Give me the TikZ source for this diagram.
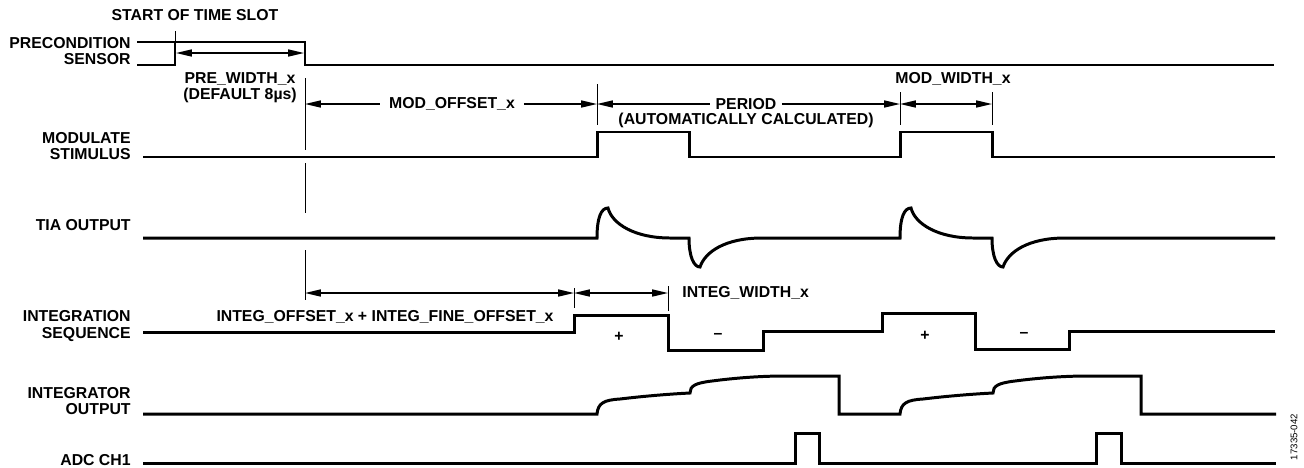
\documentclass[tikz,border=0pt]{standalone}
\usepackage{fontspec}
\setmainfont{Liberation Sans}
\usetikzlibrary{arrows.meta,positioning,calc}

\tikzset{
  sig/.style={line width=1.7pt},
  dimline/.style={line width=0.8pt},
  vtick/.style={line width=0.5pt},
  signame/.style={anchor=east,align=right,inner sep=0pt,font=\fontsize{9}{9.2}\selectfont\bfseries},
  txt/.style={align=center,inner sep=0pt,font=\fontsize{9}{9.2}\selectfont\bfseries},
}

\begin{document}
\begin{tikzpicture}[>={Triangle[length=9pt,width=4pt]},x=0.02cm,y=-0.02cm]
\useasboundingbox (0,0) rectangle (1304,467);

% signal names
\node[signame] (pre) at (131,51) {PRECONDITION\\SENSOR};
\node[signame] (mod) at (131,146) {MODULATE\\STIMULUS};
\node[signame] (tia) at (131,225) {TIA OUTPUT};
\node[signame] (integ) at (131,326) {INTEGRATION\\SEQUENCE};
\node[signame] (intout) at (131,401) {INTEGRATOR\\OUTPUT};
\node[signame] (adc) at (131,460) {ADC CH1};

% precondition sensor
\node[txt] (start) at (195,15) {START OF TIME SLOT};
\draw[sig] (137,42) -- (305,42) -- (305,65) -- (1274,65);
\draw[sig] (137,65) -- (175,65) -- (175,42);
\draw[vtick] (175,31) -- (175,42);
\coordinate (pw1) at (176,53);
\coordinate (pw2) at (304,53);
\draw[dimline,<->] (pw1) -- (pw2);
\node[txt] (prewidth) at (240,88) {PRE\_WIDTH\_x\\(DEFAULT 8µs)};

% modulate stimulus
\draw[sig] (143,157) -- (597,157) -- (597,132) -- (689,132) -- (689,157)
  -- (900,157) -- (900,132) -- (992,132) -- (992,157) -- (1275,157);
\draw[vtick] (305,78) -- (305,150);
\draw[vtick] (305,163) -- (305,213);
\draw[vtick] (597,84) -- (597,125);
\draw[vtick] (900,92) -- (900,125);
\draw[vtick] (992,92) -- (992,125);
\coordinate (mo1) at (305,104);
\coordinate (mo2) at (597,104);
\coordinate (pe2) at (900,104);
\coordinate (mw2) at (992,104);
\node[txt,inner xsep=5pt] (modoff) at (452,104) {MOD\_OFFSET\_x};
\draw[dimline,<-] (mo1) -- (modoff.west);
\draw[dimline,->] (modoff.east) -- (mo2);
\node[txt,inner xsep=3pt] (period) at (746,104) {PERIOD};
\node[txt] (auto) at (746,120) {(AUTOMATICALLY CALCULATED)};
\draw[dimline,<-] (mo2) -- (period.west);
\draw[dimline,->] (period.east) -- (pe2);
\draw[dimline,<->] (pe2) -- (mw2);
\node[txt] (modwidth) at (953,79) {MOD\_WIDTH\_x};

% TIA output
\draw[sig] (143,238)
  \foreach \s in {0,303} {
    -- ({597+\s},238) .. controls ({597+\s},218) and ({601+\s},208) .. ({608+\s},208)
    .. controls ({612+\s},224) and ({635+\s},238) .. ({670+\s},238)
    -- ({689+\s},238) .. controls ({689+\s},257) and ({694+\s},267) .. ({700+\s},267)
    .. controls ({705+\s},252) and ({725+\s},238) .. ({762+\s},238)
  } -- (1275,238);

% integration sequence
\draw[vtick] (305,250) -- (305,300);
\draw[vtick] (574,288) -- (574,308);
\draw[vtick] (668,286) -- (668,311);
\coordinate (io1) at (305,293);
\coordinate (io2) at (574,293);
\coordinate (iw2) at (668,293);
\draw[dimline,<->] (io1) -- (io2);
\draw[dimline,<->] (io2) -- (iw2);
\node[txt] (intoff) at (385,317) {INTEG\_OFFSET\_x + INTEG\_FINE\_OFFSET\_x};
\node[txt,anchor=west] (intwidth) at (682,293) {INTEG\_WIDTH\_x};
\draw[sig] (143,332) -- (574,332) -- (574,315) -- (668,315) -- (668,350) -- (763,350)
  -- (763,331) -- (882,331) -- (882,313) -- (975,313) -- (975,349) -- (1069,349)
  -- (1069,331) -- (1275,331);
\node[txt] (p1) at (619,337) {+};
\node[txt] (m1) at (718,336) {–};
\node[txt] (p2) at (925,336) {+};
\node[txt] (m2) at (1024,335) {–};

% integrator output
\draw[sig] (143,414)
  \foreach \s/\e in {0/839,303/1141} {
    -- ({597+\s},414) .. controls ({598+\s},403) and ({604+\s},400) .. ({620+\s},399)
    .. controls ({645+\s},396) and ({670+\s},394) .. ({690+\s},393)
    .. controls ({690+\s},386) and ({695+\s},383) .. ({712+\s},381)
    .. controls ({735+\s},378) and ({760+\s},376) .. ({785+\s},376)
    -- (\e,376) -- (\e,414)
  } -- (1276,414);

% ADC
\draw[sig] (143,463) -- (795,463) -- (795,433) -- (819,433) -- (819,463)
  -- (1096,463) -- (1096,433) -- (1121,433) -- (1121,463) -- (1276,463);

\node[rotate=90,inner sep=0pt,font=\fontsize{5.5}{6}\selectfont] (fig) at (1294,437) {17335-042};
\end{tikzpicture}
\end{document}
